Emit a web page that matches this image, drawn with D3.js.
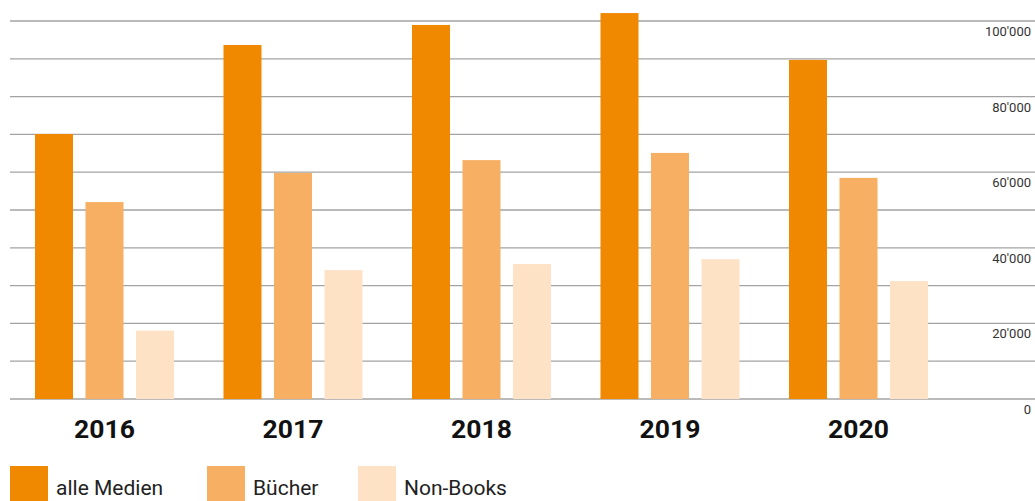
<!DOCTYPE html>
<html>
<head>
<meta charset="utf-8">
<script src="https://cdn.jsdelivr.net/npm/d3@7"></script>
<style>
    html, body { margin: 0; padding: 0; background: #fff; }
    svg { display: block; font-family: Roboto, "DejaVu Sans", sans-serif; }
</style>
</head>
<body>
<svg id="chart" width="1035" height="501"></svg>
<script>
/* Umsatz nach Medien, 2016 - 2020 */

const years = ["2016", "2017", "2018", "2019", "2020"];
const seriesNames = ["alle Medien", "Bücher", "Non-Books"];
const alleMedien = [70100, 93650, 98950, 102100, 89700];
const buecher = [52100, 59800, 63200, 65100, 58500];
const nonBooks = [18100, 34100, 35700, 37000, 31200];
const gridTicks = [0, 10000, 20000, 30000, 40000, 50000, 60000, 70000, 80000, 90000, 100000];
const labelTicks = [0, 20000, 40000, 60000, 80000, 100000];

const colors = ["#f08800", "#f7b063", "#fde2c5"];
const values = [alleMedien, buecher, nonBooks];

const svg = d3.select("#chart");

const locale = d3.formatLocale({ decimal: ".", thousands: "'", grouping: [3], currency: ["", ""] });
const fmt = locale.format(",d");

// group layout: step 188.5, bars 38 wide, 12.5 apart
const step = 188.5,
    groupWidth = 139,
    pInner = (step - groupWidth) / step,
    pOuter = 25 / step,
    left = 10;

const x0 = d3
    .scaleBand()
    .domain(years)
    .range([left, left + step * (years.length - pInner + 2 * pOuter)])
    .paddingInner(pInner)
    .paddingOuter(pOuter);

const x1 = d3
    .scaleBand()
    .domain(seriesNames)
    .range([0, x0.bandwidth()])
    .paddingInner(12.5 / 50.5)
    .paddingOuter(0);

const y = d3
    .scaleLinear()
    .domain([0, 100000])
    .range([399, 21]);

// gridlines
svg.append("g")
    .classed("grid", true)
    .selectAll("line")
    .data(gridTicks)
    .join("line")
    .attr("x1", left)
    .attr("x2", 1035)
    .attr("y1", d => y(d))
    .attr("y2", d => y(d))
    .attr("stroke", "#a3a3a3")
    .attr("stroke-width", 1.3);

// value labels on the right, just under the line
svg.append("g")
    .classed("y-labels", true)
    .selectAll("text")
    .data(labelTicks)
    .join("text")
    .attr("x", 1031)
    .attr("y", d => y(d) + 15)
    .attr("text-anchor", "end")
    .attr("font-size", "13px")
    .attr("fill", "#333")
    .text(d => fmt(d));

// bars
const groups = svg
    .append("g")
    .classed("bars", true)
    .selectAll("g")
    .data(years)
    .join("g")
    .attr("transform", d => `translate(${x0(d)},0)`);

groups
    .selectAll("rect")
    .data((d, i) => seriesNames.map((s, j) => ({ series: s, value: values[j][i], color: colors[j] })))
    .join("rect")
    .attr("x", d => x1(d.series))
    .attr("width", x1.bandwidth())
    .attr("y", d => y(d.value))
    .attr("height", d => y(0) - y(d.value))
    .attr("fill", d => d.color);

// year labels
svg.append("g")
    .classed("x-labels", true)
    .selectAll("text")
    .data(years)
    .join("text")
    .attr("x", d => x0(d) + x0.bandwidth() / 2)
    .attr("y", 438)
    .attr("text-anchor", "middle")
    .attr("font-size", "26.5px")
    .attr("font-weight", "bold")
    .attr("fill", "#111")
    .text(d => d);

// legend
const legendX = [10, 207, 358];
const legend = svg
    .append("g")
    .classed("legend", true)
    .selectAll("g")
    .data(seriesNames)
    .join("g")
    .attr("transform", (d, i) => `translate(${legendX[i]},466)`);

legend
    .append("rect")
    .attr("width", 38)
    .attr("height", 38)
    .attr("fill", (d, i) => colors[i]);

legend
    .append("text")
    .attr("x", 46)
    .attr("y", 29)
    .attr("font-size", "21px")
    .attr("fill", "#222")
    .text(d => d);
</script>
</body>
</html>
